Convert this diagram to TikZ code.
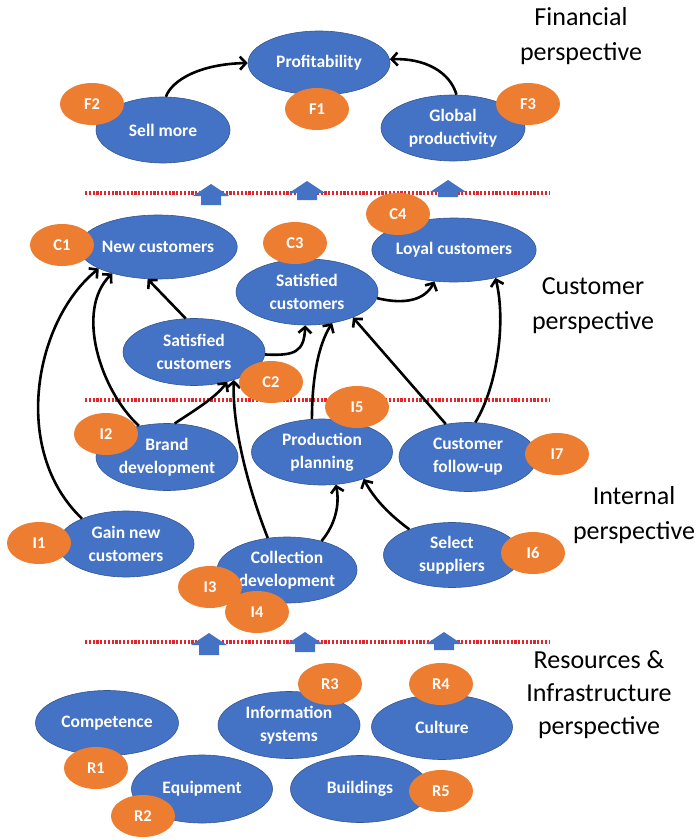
\documentclass[tikz,border=0pt]{standalone}
\usepackage{fontspec}
\setmainfont{Carlito}
\usetikzlibrary{shapes.geometric,arrows.meta}
\definecolor{obl}{HTML}{4472C4}
\definecolor{oor}{HTML}{ED7D31}
\definecolor{dred}{HTML}{E3262B}
\newcommand\blueup[3]{\fill[obl] (#1-10,#3) -- (#1-10,#2+12) -- (#1-18,#2+12) -- (#1,#2) -- (#1+18,#2+12) -- (#1+10,#2+12) -- (#1+10,#3) -- cycle;}
\begin{document}
\begin{tikzpicture}[x=1pt,y=-1pt,
 goal/.style={ellipse, fill=obl, draw=obl!75!black, line width=0.6pt, inner sep=0pt, text=white, font=\bfseries\fontsize{17.5}{23}\selectfont, align=center},
 tag/.style={ellipse, fill=oor, minimum width=64pt, minimum height=42pt, inner sep=0pt, text=white, font=\bfseries\fontsize{16.5}{18}\selectfont},
 persp/.style={font=\fontsize{26}{35}\selectfont, align=center},
 link/.style={-{Straight Barb[length=6pt,width=13pt]}, line width=2.6pt, black},
 sep/.style={dred, line width=3.5pt, dash pattern=on 2.2pt off 1.6pt},
]
\useasboundingbox (0,0) rectangle (697,840);
% separators
\draw[sep] (85,193) -- (550,193);
\draw[sep] (85,400) -- (550,400);
\draw[sep] (85,642) -- (550,642);
\blueup{211}{184}{205}
\blueup{307}{181}{200}
\blueup{448}{180}{197}
\blueup{209}{633}{655}
\blueup{305}{632}{652}
\blueup{444}{632}{650}
% financial
\node[goal, minimum width=142pt, minimum height=64pt] (prof) at (319,63) {Profitability};
\node[goal, minimum width=134pt, minimum height=66pt] (sell) at (163,130) {Sell more};
\node[goal, minimum width=144pt, minimum height=66pt] (glob) at (453,128) {Global\\productivity};
\node[tag] (F1) at (317,109) {F1};
\node[tag] (F2) at (92,104) {F2};
\node[tag] (F3) at (528,104) {F3};
\node[persp] (fin) at (581,36) {Financial\\perspective};
% customer
\node[goal, minimum width=138pt, minimum height=64pt] (newc) at (158,247) {New customers};
\node[goal, minimum width=142pt, minimum height=66pt] (sat1) at (307,292) {Satisfied\\customers};
\node[goal, minimum width=142pt, minimum height=64pt] (loyal) at (454,250) {Loyal customers};
\node[goal, minimum width=142pt, minimum height=67pt] (sat2) at (194,352) {Satisfied\\customers};
\node[persp] (cus) at (593,306) {Customer\\perspective};
% internal
\node[goal, minimum width=142pt, minimum height=67pt] (brand) at (167,457) {Brand\\development};
\node[goal, minimum width=141pt, minimum height=66pt] (prod) at (322,452) {Production\\planning};
\node[goal, minimum width=138pt, minimum height=69pt] (foll) at (468,457) {Customer\\follow-up};
\node[goal, minimum width=136pt, minimum height=66pt] (gain) at (126,544) {Gain new\\customers};
\node[goal, minimum width=140pt, minimum height=66pt] (coll) at (287,570) {Collection\\development};
\node[goal, minimum width=137pt, minimum height=65pt] (sel) at (452,555) {Select\\suppliers};
\node[persp] (int) at (634,515) {Internal\\perspective};
% resources
\node[goal, minimum width=143pt, minimum height=65pt] (comp) at (107,723) {Competence};
\node[goal, minimum width=142pt, minimum height=67pt] (info) at (289,725) {Information\\systems};
\node[goal, minimum width=141pt, minimum height=65pt] (cult) at (442,727) {Culture};
\node[goal, minimum width=141pt, minimum height=68pt] (equip) at (202,789) {Equipment};
\node[goal, minimum width=139pt, minimum height=67pt] (build) at (360,789) {Buildings};
\node[persp, font=\fontsize{26}{33}\selectfont] (res) at (599,695) {Resources \&\\Infrastructure\\perspective};
% connectors
\draw[link] (sell.85) .. controls (172,80) and (200,64) .. (prof.180);
\draw[link] (glob.84) .. controls (450,72) and (425,58) .. (prof.3);
\draw[link] (gain.150) .. controls (10,450) and (35,320) .. (newc.200);
\draw[link] (brand.132) .. controls (100,390) and (75,310) .. (newc.210);
\draw[link] (brand.77) .. controls (195,410) and (215,398) .. (sat2.-42);
\draw[link] (sat2.104) -- (newc.-108);
\draw[link] (sat2.-2) .. controls (295,356) and (304,352) .. (sat1.-93);
\draw[link] (coll.121) .. controls (245,480) and (232,420) .. (sat2.-35);
\draw[link] (coll.40) .. controls (335,525) and (340,505) .. (prod.-67);
\draw[link] (prod.107) .. controls (312,380) and (318,345) .. (sat1.-51);
\draw[link] (foll.124) -- (sat1.-29);
\draw[link] (foll.78) .. controls (498,385) and (506,320) .. (loyal.-34);
\draw[link] (sat1.-5) .. controls (405,305) and (425,300) .. (loyal.-122);
\draw[link] (sel.149) .. controls (390,515) and (375,500) .. (prod.-33);
% tags
\node[tag] (C1) at (62,245) {C1};
\node[tag] (C3) at (295,243) {C3};
\node[tag] (C4) at (398,214) {C4};
\node[tag] (C2) at (271,382) {C2};
\node[tag] (I1) at (39,543) {I1};
\node[tag] (I2) at (106,434) {I2};
\node[tag] (I3) at (210,587) {I3};
\node[tag] (I4) at (257,612) {I4};
\node[tag] (I5) at (357,407) {I5};
\node[tag] (I6) at (533,553) {I6};
\node[tag] (I7) at (557,454) {I7};
\node[tag] (R1) at (96,768) {R1};
\node[tag] (R2) at (143,816) {R2};
\node[tag] (R3) at (330,684) {R3};
\node[tag] (R4) at (441,684) {R4};
\node[tag] (R5) at (441,791) {R5};
\end{tikzpicture}
\end{document}
